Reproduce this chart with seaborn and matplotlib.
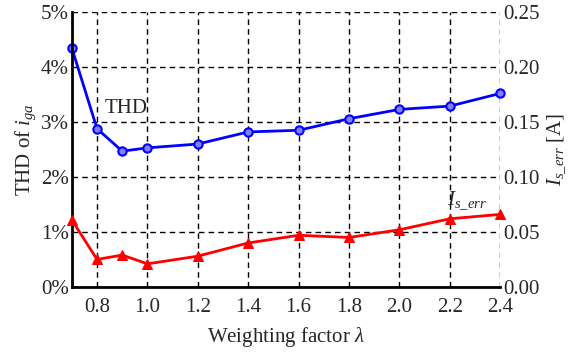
import matplotlib
matplotlib.use("Agg")
import matplotlib.pyplot as plt
import seaborn as sns
import pandas as pd
from matplotlib.ticker import FuncFormatter

### DATA
weight = [0.7, 0.8, 0.9, 1.0, 1.2, 1.4, 1.6, 1.8, 2.0, 2.2, 2.4]
thd_pct = [4.35, 2.88, 2.47, 2.53, 2.60, 2.82, 2.85, 3.06, 3.23, 3.29, 3.52]
is_err = [0.061, 0.025, 0.029, 0.021, 0.028, 0.040, 0.047, 0.045, 0.052, 0.062, 0.066]
x_ticks = [0.8, 1.0, 1.2, 1.4, 1.6, 1.8, 2.0, 2.2, 2.4]

df = pd.DataFrame({"w": weight, "thd": thd_pct, "err": is_err})

### STYLE
sns.set_style("white")
plt.rcParams["font.family"] = ["Liberation Serif", "DejaVu Serif"]
plt.rcParams["mathtext.fontset"] = "custom"
plt.rcParams["mathtext.rm"] = "Liberation Serif"
plt.rcParams["mathtext.it"] = "Liberation Serif:italic"
fs = 15

fig, ax = plt.subplots(figsize=(5.79, 3.56), dpi=100)
fig.subplots_adjust(left=0.124, right=0.864, top=0.966, bottom=0.194)
ax2 = ax.twinx()

sns.lineplot(data=df, x="w", y="thd", ax=ax, color="#0000ff", lw=2,
             marker="o", markersize=6, markerfacecolor="#8080ff",
             markeredgecolor="#0000ff", markeredgewidth=1.5, clip_on=False)
sns.lineplot(data=df, x="w", y="err", ax=ax2, color="#ff0000", lw=2,
             marker="^", markersize=7, markeredgecolor="#ff0000", clip_on=False)

ax.set_xlim(0.7, 2.4)
ax.set_ylim(0, 5)
ax2.set_ylim(0, 0.25)
ax.set_xticks(x_ticks)
ax.set_xticklabels([f"{t:.1f}" for t in x_ticks])
ax.set_yticks([0, 1, 2, 3, 4, 5])
ax.yaxis.set_major_formatter(FuncFormatter(lambda v, p: f"{v:.0f}%"))
ax2.set_yticks([0, 0.05, 0.10, 0.15, 0.20, 0.25])
ax2.yaxis.set_major_formatter(FuncFormatter(lambda v, p: f"{v:.2f}"))

ax.grid(True, color="black", ls=(0, (4, 3)), lw=1)
ax.set_axisbelow(True)
for a in (ax, ax2):
    a.spines["top"].set_visible(False)
    a.spines["right"].set_visible(False)
    a.tick_params(labelsize=fs, length=0, pad=2)
ax.tick_params(axis="x", pad=8)
ax.spines["left"].set_linewidth(2)
ax.spines["bottom"].set_linewidth(2)
ax.spines["left"].set_color("black")
ax.spines["bottom"].set_color("black")
ax2.spines["left"].set_visible(False)
ax2.spines["bottom"].set_visible(False)

ax.set_xlabel(r"Weighting factor $\lambda$", fontsize=fs, labelpad=6)
ax.set_ylabel(r"THD of $i_{ga}$", fontsize=fs, labelpad=2)
ax2.set_ylabel(r"$I_{s\_err}$ [A]", fontsize=fs, labelpad=4)

ax.text(0.83, 3.16, "THD", fontsize=fs)
ax.text(2.19, 1.48, r"$I_{s\_err}$", fontsize=fs)

plt.savefig("out.png", dpi=100)
